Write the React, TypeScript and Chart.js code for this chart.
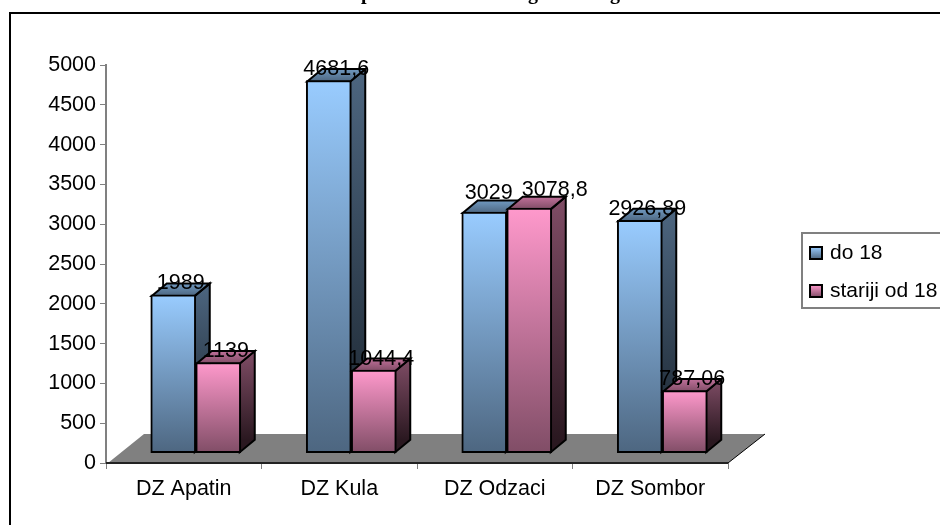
import React, { useEffect, useRef } from "react";
import { Chart, registerables } from "chart.js";

Chart.register(...registerables);

const categories = ["DZ Apatin", "DZ Kula", "DZ Odzaci", "DZ Sombor"];
const seriesNames = ["do 18", "stariji od 18"];
const do18 = [1989, 4681.6, 3029, 2926.89];
const stariji = [1139, 1044.4, 3078.8, 787.06];
const labelsDo18 = ["1989", "4681,6", "3029", "2926,89"];
const labelsStariji = ["1139", "1044,4", "3078,8", "787,06"];
const yTicks = [0, 500, 1000, 1500, 2000, 2500, 3000, 3500, 4000, 4500, 5000];
const titleFragments = ["p", "g", "g"];

const FONT = '"Liberation Sans", Arial, sans-serif';
const FONT_SIZE = 21.5;
const SHIFT_X = 12;
const SHIFT_Y = -9.8;
const DEPTH_X = 15;
const DEPTH_Y = 12.5;
const FLOOR_X = 37;
const FLOOR_Y = 29;
// the two middle labels sit apart so that they do not collide
const LABEL_NUDGE: Record<string, number[]> = { "3029": [-3, -7.5], "3078,8": [18, -6.5] };

const palettes = [
  { front: ["#99CCFF", "#4D6680"], side: ["#4D6680", "#1C2630"], top: ["#7099C0", "#4D6680"] },
  { front: ["#FF99CC", "#804D66"], side: ["#804D66", "#2A1820"], top: ["#C0709A", "#804D66"] },
];

const grad = (ctx: CanvasRenderingContext2D, x0: number, y0: number, x1: number, y1: number, c: string[]) => {
  const g = ctx.createLinearGradient(x0, y0, x1, y1);
  g.addColorStop(0, c[0]);
  g.addColorStop(1, c[1]);
  return g;
};

const frontFill = (idx: number) => (context: any) => {
  const chart = context.chart;
  const yS = chart.scales.y;
  const v = context.dataset?.data?.[context.dataIndex];
  const y0 = yS && v !== undefined ? yS.getPixelForValue(v) : NaN;
  const y1 = yS ? yS.getPixelForValue(0) : NaN;
  if (!Number.isFinite(y0) || !Number.isFinite(y1)) return palettes[idx].front[0];
  return grad(chart.ctx, 0, y0, 0, y1, palettes[idx].front);
};

const poly = (ctx: CanvasRenderingContext2D, pts: number[][], fill: any, stroke = true) => {
  ctx.beginPath();
  pts.forEach((p, i) => (i ? ctx.lineTo(p[0], p[1]) : ctx.moveTo(p[0], p[1])));
  ctx.closePath();
  ctx.fillStyle = fill;
  ctx.fill();
  if (stroke) {
    ctx.lineWidth = 2;
    ctx.strokeStyle = "#000";
    ctx.lineJoin = "miter";
    ctx.stroke();
  }
};

const scene = {
  id: "scene",
  beforeDatasetsDraw(chart: any) {
    const { ctx, chartArea: a } = chart;
    ctx.save();
    // frame
    ctx.strokeStyle = "#000";
    ctx.lineWidth = 2;
    ctx.beginPath();
    ctx.moveTo(10, 525);
    ctx.lineTo(10, 13);
    ctx.lineTo(940, 13);
    ctx.stroke();
    // clipped title
    ctx.fillStyle = "#000";
    ctx.font = 'bold 20px "Liberation Serif", serif';
    ctx.textBaseline = "alphabetic";
    ctx.textAlign = "left";
    [361, 528, 610].forEach((x, i) => ctx.fillText(titleFragments[i], x, -1));
    // floor
    poly(
      ctx,
      [
        [a.left + 2, a.bottom],
        [a.right, a.bottom],
        [a.right + FLOOR_X, a.bottom - FLOOR_Y],
        [a.left + FLOOR_X + 1, a.bottom - FLOOR_Y],
      ],
      "#808080",
      false
    );
    ctx.strokeStyle = "#000";
    ctx.lineWidth = 1;
    ctx.beginPath();
    ctx.moveTo(a.right, a.bottom);
    ctx.lineTo(a.right + FLOOR_X, a.bottom - FLOOR_Y);
    ctx.stroke();
    ctx.restore();

    // the series are painted left to right, so that the pink bars cover the blue sides
    const yZero = chart.scales.y.getPixelForValue(0);
    [0, 1].forEach((di) => {
      const meta = chart.getDatasetMeta(di);
      const p = palettes[di];
      ctx.save();
      ctx.translate(SHIFT_X, SHIFT_Y);
      meta.data.forEach((bar: any) => {
        const l = bar.x - bar.width / 2 + 1;
        const r = bar.x + bar.width / 2 - 1;
        const t = bar.y + 1;
        const b = yZero - 1;
        poly(
          ctx,
          [
            [r, t],
            [r + DEPTH_X, t - DEPTH_Y],
            [r + DEPTH_X, b - DEPTH_Y],
            [r, b],
          ],
          grad(ctx, 0, t - DEPTH_Y, 0, b - DEPTH_Y, p.side)
        );
        poly(
          ctx,
          [
            [l, t],
            [r, t],
            [r + DEPTH_X, t - DEPTH_Y],
            [l + DEPTH_X, t - DEPTH_Y],
          ],
          grad(ctx, 0, t - DEPTH_Y, 0, t, p.top)
        );
      });
      meta.controller.draw();
      ctx.restore();
    });
  },
  beforeDatasetDraw() {
    return false;
  },
  afterDatasetsDraw(chart: any) {
    const { ctx } = chart;
    ctx.save();
    ctx.fillStyle = "#000";
    ctx.font = `${FONT_SIZE}px ${FONT}`;
    ctx.textAlign = "center";
    ctx.textBaseline = "alphabetic";
    [labelsDo18, labelsStariji].forEach((labels, di) => {
      chart.getDatasetMeta(di).data.forEach((bar: any, i: number) => {
        const n = LABEL_NUDGE[labels[i]] || [0, 0];
        ctx.fillText(labels[i], bar.x + SHIFT_X + DEPTH_X / 2 + n[0], bar.y + SHIFT_Y - 5.5 + n[1]);
      });
    });
    // legend
    ctx.strokeStyle = "#808080";
    ctx.lineWidth = 2;
    ctx.beginPath();
    ctx.moveTo(940, 233);
    ctx.lineTo(802, 233);
    ctx.lineTo(802, 308);
    ctx.lineTo(940, 308);
    ctx.stroke();
    ctx.font = `21px ${FONT}`;
    chart.data.datasets.forEach((d: any, i: number) => {
      const top = 247 + i * 38;
      ctx.fillStyle = grad(ctx, 0, top, 0, top + 12, palettes[i].front);
      ctx.fillRect(810, top, 12, 12);
      ctx.strokeStyle = "#000";
      ctx.lineWidth = 2;
      ctx.strokeRect(810, top, 12, 12);
      ctx.fillStyle = "#000";
      ctx.textAlign = "left";
      ctx.textBaseline = "middle";
      ctx.fillText(d.label, 830, top + 6);
    });
    // front edge of the floor
    const a = chart.chartArea;
    ctx.strokeStyle = "#222";
    ctx.lineWidth = 2;
    ctx.beginPath();
    ctx.moveTo(a.left, a.bottom);
    ctx.lineTo(a.right, a.bottom);
    ctx.stroke();
    ctx.restore();
  },
};

export default function App() {
  const ref = useRef<HTMLCanvasElement>(null);
  useEffect(() => {
    const chart = new Chart(ref.current!, {
      type: "bar",
      data: {
        labels: categories,
        datasets: [
          { label: seriesNames[0], data: do18, backgroundColor: frontFill(0) as any },
          { label: seriesNames[1], data: stariji, backgroundColor: frontFill(1) as any },
        ],
      },
      options: {
        responsive: false,
        animation: false,
        layout: { padding: { top: 65, right: 212, left: 0, bottom: 0 } },
        datasets: {
          bar: { barThickness: 45, borderColor: "#000", borderWidth: 2, borderSkipped: false } as any,
        },
        plugins: { legend: { display: false }, tooltip: { enabled: false }, title: { display: false } },
        scales: {
          x: {
            afterFit: (s: any) => {
              s.height = 62;
            },
            border: { color: "#808080", width: 1 },
            grid: { drawOnChartArea: false, color: "#808080", tickLength: 6, offset: true },
            ticks: { color: "#000", font: { family: FONT, size: FONT_SIZE }, padding: 7, maxRotation: 0 },
          },
          y: {
            min: 0,
            max: 5000,
            afterFit: (s: any) => {
              s.width = 106;
            },
            afterBuildTicks: (s: any) => {
              s.ticks = yTicks.map((value) => ({ value }));
            },
            border: { color: "#808080", width: 2 },
            grid: { drawOnChartArea: false, color: "#808080", tickLength: 6 },
            ticks: {
              color: "#000",
              font: { family: FONT, size: FONT_SIZE },
              padding: 4,
              callback: (v: any) => String(v),
            },
          },
        },
      },
      plugins: [scene as any],
    });
    return () => chart.destroy();
  }, []);
  return (
    <div style={{ position: "absolute", left: 0, top: 0, width: 940, height: 525, background: "#fff" }}>
      <canvas ref={ref} width={940} height={525} style={{ display: "block" }} />
    </div>
  );
}
